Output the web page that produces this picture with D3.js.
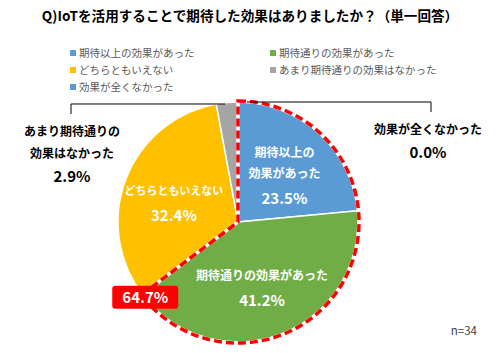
<!DOCTYPE html>
<html>
<head>
<meta charset="utf-8">
<script src="https://cdn.jsdelivr.net/npm/d3@7"></script>
<style>
  body { margin: 0; background: #fff; }
  svg { font-family: "Noto Sans CJK JP", "Noto Sans", sans-serif; }
</style>
</head>
<body>
<svg id="chart" width="500" height="353"></svg>
<script>
const title = 'Q)IoTを活用することで期待した効果はありましたか？（単一回答）';
const categories = ['期待以上の効果があった', '期待通りの効果があった', 'どちらともいえない', 'あまり期待通りの効果はなかった', '効果が全くなかった'];
const values = [23.5, 41.2, 32.4, 2.9, 0.0];
const colors = ['#5B9BD5', '#70AD47', '#FFC000', '#A5A5A5', '#5B9BD5'];
const highlightTotal = '64.7%';
const sampleNote = 'n=34';

const width = 500;
const height = 353;
const cx = 238;
const cy = 222;
const radius = 120;

const svg = d3.select('#chart');

// title
svg.append('text')
  .text(title)
  .attr('x', width / 2)
  .attr('y', 21)
  .attr('text-anchor', 'middle')
  .attr('font-size', 13.6)
  .attr('font-weight', 'bold')
  .attr('fill', '#000');

// legend (2 columns)
const legend = svg.append('g');
const legendItems = legend.selectAll('g')
  .data(categories)
  .enter()
  .append('g')
  .attr('transform', (d, i) => `translate(${i % 2 === 0 ? 70 : 270}, ${53 + Math.floor(i / 2) * 17})`);

legendItems.append('rect')
  .attr('x', 0)
  .attr('y', -3)
  .attr('width', 6)
  .attr('height', 6)
  .attr('fill', (d, i) => colors[i]);

legendItems.append('text')
  .text(d => d)
  .attr('x', 9)
  .attr('y', 4)
  .attr('font-size', 10.5)
  .attr('fill', '#595959');

// pie
const pie = d3.pie().sort(null).value(d => d);
const arcs = pie(values);
const arc = d3.arc().innerRadius(0).outerRadius(radius);
const labelArc = d3.arc().innerRadius(radius * 0.6).outerRadius(radius * 0.6);

const g = svg.append('g').attr('transform', `translate(${cx}, ${cy})`);

g.selectAll('path.slice')
  .data(arcs)
  .enter()
  .append('path')
  .attr('class', 'slice')
  .attr('d', arc)
  .attr('fill', (d, i) => colors[i])
  .attr('stroke', '#fff')
  .attr('stroke-width', 1.5);

// red dashed outline round the first two slices
const hl = d3.arc().innerRadius(0).outerRadius(radius + 1)
  ({ startAngle: arcs[0].startAngle, endAngle: arcs[1].endAngle });
g.append('path')
  .attr('d', hl)
  .attr('fill', 'none')
  .attr('stroke', '#fff')
  .attr('stroke-width', 3.5);
g.append('path')
  .attr('d', hl)
  .attr('fill', 'none')
  .attr('stroke', '#FF0000')
  .attr('stroke-width', 3.5)
  .attr('stroke-dasharray', '8,4');

// inside labels
const inside = [
  { i: 0, lines: ['期待以上の', '効果があった'], dx: -2, dy: 4, fs: 12 },
  { i: 1, lines: ['期待通りの効果があった'], dx: -2, dy: -4, fs: 12 },
  { i: 2, lines: ['どちらともいえない'], dx: 3, dy: 5, fs: 11 }
];
inside.forEach(lb => {
  const [x, y] = labelArc.centroid(arcs[lb.i]);
  const t = g.append('g').attr('transform', `translate(${x + lb.dx}, ${y + lb.dy})`);
  const n = lb.lines.length;
  const top = -((n) * 21) / 2;
  lb.lines.forEach((ln, k) => {
    t.append('text')
      .text(ln)
      .attr('x', 0)
      .attr('y', top + k * 21 + 5)
      .attr('text-anchor', 'middle')
      .attr('font-size', lb.fs)
      .attr('font-weight', 'bold')
      .attr('fill', '#fff');
  });
  t.append('text')
    .text(values[lb.i].toFixed(1) + '%')
    .attr('x', 0)
    .attr('y', top + n * 21 + 10)
    .attr('text-anchor', 'middle')
    .attr('font-size', 15)
    .attr('font-weight', 'bold')
    .attr('fill', '#fff');
});

// leader lines for small slices
const outerPoint = (a) => [Math.sin(a) * radius, -Math.cos(a) * radius];
const grayMid = (arcs[3].startAngle + arcs[3].endAngle) / 2;
const gp = outerPoint(grayMid);
const zp = outerPoint(arcs[4].startAngle);
const leftX = 71 - cx;
const rightX = 431 - cx;
const lineY = gp[1] + 1.5;

g.append('path')
  .attr('d', `M${gp[0] - 2},${lineY} L${leftX},${lineY} L${leftX},${lineY + 10}`)
  .attr('fill', 'none')
  .attr('stroke', '#000')
  .attr('stroke-width', 1);
g.append('path')
  .attr('d', `M${zp[0] + 9},${zp[1]} L${rightX},${zp[1]} L${rightX},${zp[1] + 10}`)
  .attr('fill', 'none')
  .attr('stroke', '#000')
  .attr('stroke-width', 1);

// outside labels
const outside = [
  { i: 3, x: 72, lines: ['あまり期待通りの', '効果はなかった'], y: 136 },
  { i: 4, x: 428, lines: ['効果が全くなかった'], y: 134 }
];
outside.forEach(lb => {
  lb.lines.forEach((ln, k) => {
    svg.append('text')
      .text(ln)
      .attr('x', lb.x)
      .attr('y', lb.y + k * 22)
      .attr('text-anchor', 'middle')
      .attr('font-size', 12)
      .attr('font-weight', 'bold')
      .attr('fill', '#000');
  });
  svg.append('text')
    .text(values[lb.i].toFixed(1) + '%')
    .attr('x', lb.x)
    .attr('y', lb.y + lb.lines.length * 22 + 2)
    .attr('text-anchor', 'middle')
    .attr('font-size', 15)
    .attr('font-weight', 'bold')
    .attr('fill', '#000');
});

// red box with total of the highlighted slices
const bp = outerPoint(arcs[1].endAngle);
const box = g.append('g').attr('transform', `translate(${bp[0] + 3}, ${bp[1] + 3})`);
box.append('rect')
  .attr('x', -33)
  .attr('y', -11.5)
  .attr('width', 66)
  .attr('height', 23)
  .attr('rx', 3)
  .attr('fill', '#FF0000');
box.append('text')
  .text(highlightTotal)
  .attr('x', 0)
  .attr('y', 5.5)
  .attr('text-anchor', 'middle')
  .attr('font-size', 15)
  .attr('font-weight', 'bold')
  .attr('fill', '#fff');

// sample size
svg.append('text')
  .text(sampleNote)
  .attr('x', 477)
  .attr('y', 335)
  .attr('text-anchor', 'end')
  .attr('font-size', 11.5)
  .attr('fill', '#404040');
</script>
</body>
</html>
